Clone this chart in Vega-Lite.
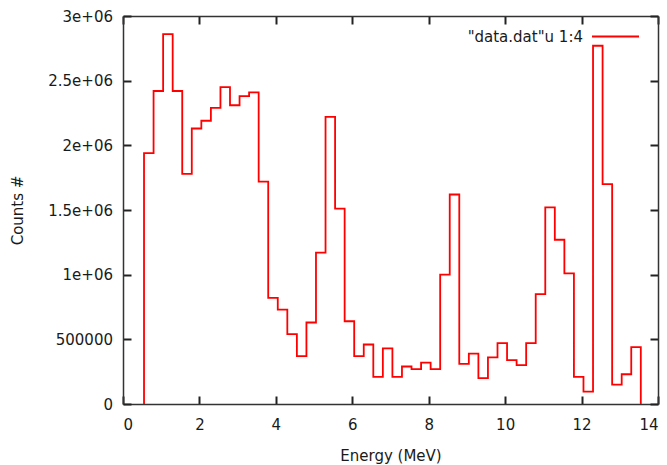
{
  "$schema": "https://vega.github.io/schema/vega-lite/v6.json",
  "width": 535,
  "height": 388,
  "autosize": "none",
  "padding": {"left": 123, "top": 16, "right": 9, "bottom": 61},
  "background": "white",
  "config": {
    "view": {"stroke": null},
    "font": "DejaVu Sans",
    "axis": {
      "grid": false,
      "domainColor": "#333333",
      "domainWidth": 1.5,
      "tickColor": "#222222",
      "tickWidth": 2,
      "tickSize": -8,
      "labelFont": "DejaVu Sans",
      "labelFontSize": 15,
      "labelColor": "#1a1a1a",
      "titleFont": "DejaVu Sans",
      "titleFontSize": 15,
      "titleFontWeight": "normal",
      "titleColor": "#1a1a1a"
    }
  },
  "data": {
    "values": [
      {"energy": 0.55, "counts": 0},
      {"energy": 0.55, "counts": 1940000},
      {"energy": 0.80, "counts": 2420000},
      {"energy": 1.05, "counts": 2860000},
      {"energy": 1.30, "counts": 2420000},
      {"energy": 1.55, "counts": 1780000},
      {"energy": 1.80, "counts": 2130000},
      {"energy": 2.05, "counts": 2190000},
      {"energy": 2.30, "counts": 2290000},
      {"energy": 2.55, "counts": 2450000},
      {"energy": 2.80, "counts": 2310000},
      {"energy": 3.05, "counts": 2380000},
      {"energy": 3.30, "counts": 2410000},
      {"energy": 3.55, "counts": 1720000},
      {"energy": 3.80, "counts": 820000},
      {"energy": 4.05, "counts": 730000},
      {"energy": 4.30, "counts": 540000},
      {"energy": 4.55, "counts": 370000},
      {"energy": 4.80, "counts": 630000},
      {"energy": 5.05, "counts": 1170000},
      {"energy": 5.30, "counts": 2220000},
      {"energy": 5.55, "counts": 1510000},
      {"energy": 5.80, "counts": 640000},
      {"energy": 6.05, "counts": 370000},
      {"energy": 6.30, "counts": 460000},
      {"energy": 6.55, "counts": 210000},
      {"energy": 6.80, "counts": 430000},
      {"energy": 7.05, "counts": 210000},
      {"energy": 7.30, "counts": 290000},
      {"energy": 7.55, "counts": 270000},
      {"energy": 7.80, "counts": 320000},
      {"energy": 8.05, "counts": 270000},
      {"energy": 8.30, "counts": 1000000},
      {"energy": 8.55, "counts": 1620000},
      {"energy": 8.80, "counts": 310000},
      {"energy": 9.05, "counts": 390000},
      {"energy": 9.30, "counts": 200000},
      {"energy": 9.55, "counts": 360000},
      {"energy": 9.80, "counts": 470000},
      {"energy": 10.05, "counts": 340000},
      {"energy": 10.30, "counts": 300000},
      {"energy": 10.55, "counts": 470000},
      {"energy": 10.80, "counts": 850000},
      {"energy": 11.05, "counts": 1520000},
      {"energy": 11.30, "counts": 1270000},
      {"energy": 11.55, "counts": 1010000},
      {"energy": 11.80, "counts": 210000},
      {"energy": 12.05, "counts": 95000},
      {"energy": 12.30, "counts": 2770000},
      {"energy": 12.55, "counts": 1700000},
      {"energy": 12.80, "counts": 150000},
      {"energy": 13.05, "counts": 230000},
      {"energy": 13.30, "counts": 440000},
      {"energy": 13.55, "counts": 0}
    ]
  },
  "layer": [
    {
      "mark": {"type": "line", "opacity": 0},
      "encoding": {
        "x": {
          "field": "energy", "type": "quantitative",
          "scale": {"domain": [0, 14], "nice": false, "zero": false},
          "axis": {"orient": "top", "labels": false, "title": null, "values": [0, 2, 4, 6, 8, 10, 12, 14]}
        },
        "y": {
          "field": "counts", "type": "quantitative",
          "scale": {"domain": [0, 3000000], "nice": false},
          "axis": {"orient": "right", "labels": false, "title": null, "values": [0, 500000, 1000000, 1500000, 2000000, 2500000, 3000000]}
        }
      }
    },
    {
      "mark": {"type": "line", "interpolate": "step-after", "strokeWidth": 1.8},
      "encoding": {
        "x": {
          "field": "energy", "type": "quantitative",
          "scale": {"domain": [0, 14], "nice": false, "zero": false},
          "axis": {"orient": "bottom", "title": "Energy (MeV)", "values": [0, 2, 4, 6, 8, 10, 12, 14], "labelPadding": 21, "labelBaseline": "top", "titleBaseline": "alphabetic", "titleY": 56}
        },
        "y": {
          "field": "counts", "type": "quantitative",
          "scale": {"domain": [0, 3000000], "nice": false},
          "axis": {
            "orient": "left", "title": "Counts #",
            "values": [0, 500000, 1000000, 1500000, 2000000, 2500000, 3000000],
            "labelExpr": "datum.value >= 1000000 ? format(datum.value / 1000000, '~g') + 'e+06' : format(datum.value, 'd')",
            "labelPadding": 18.5,
            "titleX": -106, "titleY": 194, "titleAngle": -90, "titleAlign": "center", "titleBaseline": "middle"
          }
        },
        "color": {
          "datum": "\"data.dat\"u 1:4", "type": "nominal",
          "scale": {"range": ["#ff0000"]},
          "legend": {
            "title": null, "orient": "none", "legendX": 468, "legendY": -4,
            "padding": 0, "symbolType": "stroke", "symbolSize": 2209, "symbolStrokeWidth": 1.8,
            "labelFont": "DejaVu Sans", "labelFontSize": 15, "labelColor": "#1a1a1a",
            "labelAlign": "right", "labelOffset": -57
          }
        }
      }
    }
  ],
  "resolve": {"axis": {"x": "independent", "y": "independent"}}
}
